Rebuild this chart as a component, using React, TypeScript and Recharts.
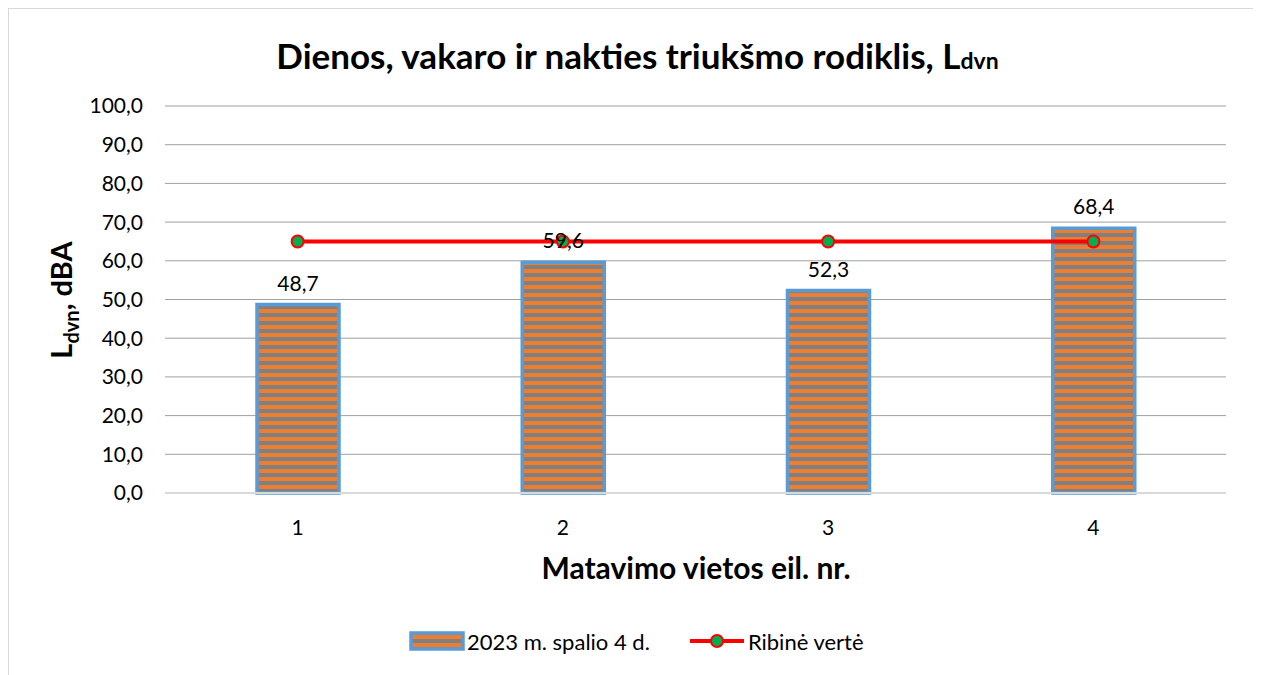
import React from 'react';
import { ComposedChart, Bar, Line, XAxis, YAxis, CartesianGrid, LabelList } from 'recharts';

const categories = ['1', '2', '3', '4'];
const measured = [48.7, 59.6, 52.3, 68.4];
const limit = [65, 65, 65, 65];
const yTicks = [0, 10, 20, 30, 40, 50, 60, 70, 80, 90, 100];
const seriesNames = ['2023 m. spalio 4 d.', 'Ribinė vertė'];

const data = categories.map((c, i) => ({ cat: c, measured: measured[i], limit: limit[i] }));

const FONT = 'Lato, "Open Sans", sans-serif';
const fmt = (v: number) => v.toFixed(1).replace('.', ',');

const Dot = (props: any) => {
  const { cx, cy } = props;
  if (cx == null || cy == null) return null;
  return <circle cx={cx} cy={cy} r={6} fill="#00B050" stroke="#FF0000" strokeWidth={2} />;
};

const LegendBox = () => (
  <div style={{ position: 'absolute', left: 400, top: 619, height: 26, display: 'flex', alignItems: 'center', fontFamily: FONT, fontSize: 22, color: '#000', whiteSpace: 'nowrap' }}>
    <svg width={56} height={20} style={{ marginRight: 2 }}>
      <defs>
        <pattern id="stripesLeg" patternUnits="userSpaceOnUse" width={8} height={8}>
          <rect x={0} y={0} width={8} height={8} fill="#808080" />
          <rect x={0} y={4} width={8} height={4.5} fill="#ED7D31" />
        </pattern>
      </defs>
      <rect x={2} y={2} width={52} height={16} fill="url(#stripesLeg)" stroke="#5B9BD5" strokeWidth={3.5} />
    </svg>
    <span>{seriesNames[0]}</span>
    <svg width={58} height={20} style={{ marginLeft: 38, marginRight: 2 }}>
      <line x1={2} y1={10} x2={56} y2={10} stroke="#FF0000" strokeWidth={4} />
      <circle cx={29} cy={10} r={6} fill="#00B050" stroke="#FF0000" strokeWidth={2} />
    </svg>
    <span>{seriesNames[1]}</span>
  </div>
);

export default function App() {
  return (
    <div style={{ position: 'relative', width: 1245, height: 667, border: '1px solid #D9D9D9', background: '#fff' }}>
      <ComposedChart width={1245} height={665} data={data} margin={{ top: 97, right: 28, left: 0, bottom: 151 }}>
        <defs>
          <pattern id="stripes" patternUnits="userSpaceOnUse" width={8} height={8}>
            <rect x={0} y={0} width={8} height={8} fill="#808080" />
            <rect x={0} y={4} width={8} height={4.5} fill="#ED7D31" />
          </pattern>
        </defs>
        <CartesianGrid vertical={false} stroke="#A0A0A0" strokeWidth={1} />
        <XAxis dataKey="cat" stroke="#D9D9D9" strokeWidth={2} tickLine={false} tickSize={0} tickMargin={27}
          tick={{ fill: '#000', fontSize: 21, fontFamily: FONT }} height={30} />
        <YAxis domain={[0, 100]} ticks={yTicks} tickFormatter={fmt} axisLine={false} tickLine={false} tickSize={0} tickMargin={22}
          tick={{ fill: '#000', fontSize: 21, fontFamily: FONT }} width={156} />
        <Bar dataKey="measured" fill="url(#stripes)" stroke="#5B9BD5" strokeWidth={3.5} barSize={82} isAnimationActive={false}>
          <LabelList dataKey="measured" position="top" offset={14} formatter={(v: any) => fmt(Number(v))}
            style={{ fill: '#000', fontSize: 21, fontFamily: FONT }} />
        </Bar>
        <Line dataKey="limit" stroke="#FF0000" strokeWidth={4} dot={<Dot />} activeDot={false} isAnimationActive={false} />
      </ComposedChart>
      <div style={{ position: 'absolute', left: 6, top: 25, width: 1245, textAlign: 'center', fontFamily: FONT, fontWeight: 700, fontSize: 35, lineHeight: 1.2, color: '#000', whiteSpace: 'nowrap' }}>
        Dienos, vakaro ir nakties triukšmo rodiklis, L<span style={{ fontSize: 23 }}>dvn</span>
      </div>
      <div style={{ position: 'absolute', left: 52 - 110, top: 291 - 17, width: 220, height: 34, lineHeight: '34px', transform: 'rotate(-90deg)', textAlign: 'center', fontFamily: FONT, fontWeight: 700, fontSize: 29, color: '#000', whiteSpace: 'nowrap' }}>
        L<span style={{ fontSize: 20, verticalAlign: 'sub' }}>dvn</span>, dBA
      </div>
      <div style={{ position: 'absolute', left: 0, top: 540, width: 1374, textAlign: 'center', fontFamily: FONT, fontWeight: 700, fontSize: 30, lineHeight: 1.2, color: '#000', whiteSpace: 'nowrap' }}>
        Matavimo vietos eil. nr.
      </div>
      <LegendBox />
    </div>
  );
}
